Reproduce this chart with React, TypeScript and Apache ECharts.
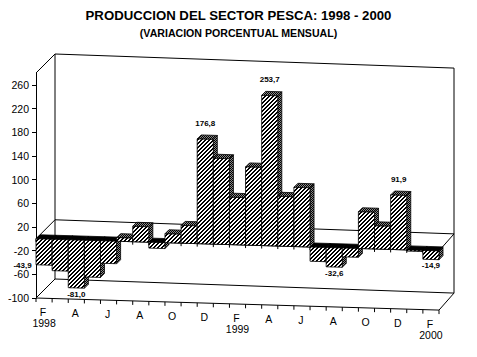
import React, { useEffect, useRef } from "react";
import * as echarts from "echarts";

const months = ["F","M","A","M","J","J","A","S","O","N","D","E","F","M","A","M","J","J","A","S","O","N","D","E","F"];
const values = [-43.9,-53,-81.0,-62,-38,6,26,-10,15,30,176.8,145,80,132,253.7,84,100,-24,-32.6,-15,62,39,91.9,-2,-14.9];
const labelledMonths = [0,2,10,14,18,22,24];
const shownMonths = [0,2,4,6,8,10,12,14,16,18,20,22,24];
const years = [{ at: 0, text: "1998" }, { at: 12, text: "1999" }, { at: 24, text: "2000" }];
const yTicks = [-100,-60,-20,20,60,100,140,180,220,260];

const FONT = "'Liberation Sans', Arial, sans-serif";
const SLOPE = 0.03;

function makePattern(size: number, pixel: (x: number, y: number) => string) {
  const c = document.createElement("canvas");
  c.width = size; c.height = size;
  const g = c.getContext("2d")!;
  for (let y = 0; y < size; y++) for (let x = 0; x < size; x++) {
    g.fillStyle = pixel(x, y);
    g.fillRect(x, y, 1, 1);
  }
  return { image: c, repeat: "repeat" } as any;
}

export default function App() {
  const ref = useRef<HTMLDivElement>(null);
  useEffect(() => {
    const hatch = makePattern(4, (x, y) => ((x + y) % 4 < 2 ? "#000" : "#fff"));
    const dark = makePattern(2, (x, y) => ((x + y) % 2 === 0 ? "#000" : "#888"));
    const chart = echarts.init(ref.current!, undefined, { renderer: "svg" });

    const skew = (p: number[], x0: number) => [p[0], p[1] + SLOPE * (p[0] - x0)];
    const line = (a: number[], b: number[], w = 1) => ({
      type: "line",
      shape: { x1: a[0], y1: a[1], x2: b[0], y2: b[1] },
      style: { stroke: "#000", lineWidth: w },
    });

    const renderFrame = (params: any, api: any) => {
      const cs = params.coordSys;
      const x0 = cs.x, x1 = cs.x + cs.width;
      const back = (x: number, y: number) => {
        const f = (x - x0) / cs.width;
        return [x + 19 - 4 * f, y - 19 + 2 * f];
      };
      const pt = (x: number, v: number) => skew([x, api.coord([0, v])[1]], x0);
      const fb0 = pt(x0, -100), fb1 = pt(x1, -100);
      const fz0 = pt(x0, 0), fz1 = pt(x1, 0);
      const bt0 = back(x0, pt(x0, 280)[1]), bt1 = back(x1, pt(x1, 280)[1]);
      const bb0 = back(fb0[0], fb0[1]), bb1 = back(fb1[0], fb1[1]);
      const bz0 = back(fz0[0], fz0[1]), bz1 = back(fz1[0], fz1[1]);
      const top = [x0, pt(x0, 280)[1]];
      const children: any[] = [
        line(top, bt0), line(bt0, bb0), line(bt0, bt1), line(bt1, bb1),
        line(bb0, bb1), line(fb0, fb1), line(fb0, bb0), line(fb1, bb1),
        line(bz0, bz1), line(fz0, bz0), line(fz1, bz1), line(fz0, fz1),
      ];
      const band = cs.width / months.length;
      for (let i = 0; i <= months.length; i++) {
        const x = x0 + i * band;
        const a = pt(x, -100), b = pt(x, 0);
        children.push(line(a, [a[0], a[1] + 4]));
        children.push(line(b, [b[0], b[1] + 3]));
      }
      return { type: "group", children };
    };

    const renderBar = (params: any, api: any) => {
      const cs = params.coordSys;
      const i = api.value(0), v = api.value(1);
      const c = api.coord([i, v]);
      const z = api.coord([i, 0]);
      const w = api.size([1, 0])[0];
      const L = c[0] - w / 2, R = c[0] + w / 2;
      const d = 4;
      const hi = Math.min(c[1], z[1]), lo = Math.max(c[1], z[1]);
      const P = (x: number, y: number) => skew([x, y], cs.x);
      const a = P(L, hi), b = P(R, hi), e = P(R, lo), f = P(L, lo);
      const up = (p: number[]) => [p[0] + d, p[1] - d];
      const stroke = { stroke: "#000", lineWidth: 0.8 };
      return {
        type: "group",
        children: [
          { type: "polygon", shape: { points: [a, b, up(b), up(a)] },
            style: { fill: v < 0 ? "#000" : dark, ...stroke } },
          { type: "polygon", shape: { points: [b, e, up(e), up(b)] },
            style: { fill: dark, ...stroke } },
          { type: "polygon", shape: { points: [a, b, e, f] },
            style: { fill: hatch, ...stroke } },
        ],
      };
    };

    const renderValueLabel = (params: any, api: any) => {
      const cs = params.coordSys;
      const i = api.value(0), v = values[i];
      const c = skew(api.coord([i, v]), cs.x);
      const isFirst = i === 0;
      const x = c[0] + (isFirst ? -21.5 : 0);
      const y = c[1] + (isFirst ? 0 : v < 0 ? 6.5 : -16);
      return {
        type: "text", x, y,
        style: {
          text: v.toFixed(1).replace(".", ","), x: 0, y: 0,
          fill: "#000", font: `bold 8px ${FONT}`, textAlign: "center", textVerticalAlign: "middle",
        },
      };
    };

    const renderMonth = (params: any, api: any) => {
      const cs = params.coordSys;
      const i = api.value(0);
      const c = skew(api.coord([i, -100]), cs.x);
      return {
        type: "text", x: c[0] - 1, y: c[1] + 14,
        style: { text: months[i], x: 0, y: 0, fill: "#000", font: `10.5px ${FONT}`, textAlign: "center", textVerticalAlign: "middle" },
      };
    };

    const renderYear = (params: any, api: any) => {
      const cs = params.coordSys;
      const i = api.value(0);
      const c = skew(api.coord([i, -100]), cs.x);
      return {
        type: "text", x: c[0], y: c[1] + 25,
        style: { text: years.find((t) => t.at === i)!.text, x: 0, y: 0, fill: "#000", font: `10.5px ${FONT}`, textAlign: "center", textVerticalAlign: "middle" },
      };
    };

    const enc = { x: 0, y: 1 };
    chart.setOption({
      animation: false,
      backgroundColor: "#fff",
      title: [
        { text: "PRODUCCION DEL SECTOR PESCA: 1998 - 2000", left: "center", top: 4,
          textStyle: { fontFamily: FONT, fontSize: 13.2, fontWeight: "bold", color: "#000" } },
        { text: "(VARIACION PORCENTUAL MENSUAL)", left: "center", top: 22,
          textStyle: { fontFamily: FONT, fontSize: 10.6, fontWeight: "bold", color: "#000" } },
      ],
      grid: { left: 36, right: 38, top: 73, bottom: 59 },
      xAxis: { type: "category", data: months, show: false },
      yAxis: {
        type: "value", min: -100, max: 280,
        splitLine: { show: false },
        axisLine: { show: true, lineStyle: { color: "#000" } },
        axisTick: { show: true, length: 4, customValues: yTicks, lineStyle: { color: "#000" } },
        axisLabel: { customValues: yTicks, margin: 7, fontFamily: FONT, fontSize: 10.5, color: "#000" },
      },
      series: [
        { type: "custom", renderItem: renderFrame, data: [[0, 0]], encode: enc, silent: true, z: 1 },
        { type: "custom", renderItem: renderBar, data: values.map((v, i) => [i, v]), encode: enc, z: 2 },
        { type: "custom", renderItem: renderValueLabel, data: labelledMonths.map((i) => [i, values[i]]), encode: enc, z: 3 },
        { type: "custom", renderItem: renderMonth, data: shownMonths.map((i) => [i, -100]), encode: enc, z: 3 },
        { type: "custom", renderItem: renderYear, data: years.map((t) => [t.at, -100]), encode: enc, z: 3 },
      ],
    });
    return () => chart.dispose();
  }, []);
  return <div ref={ref} style={{ position: "fixed", left: 0, top: 0, width: 477, height: 357 }} />;
}
